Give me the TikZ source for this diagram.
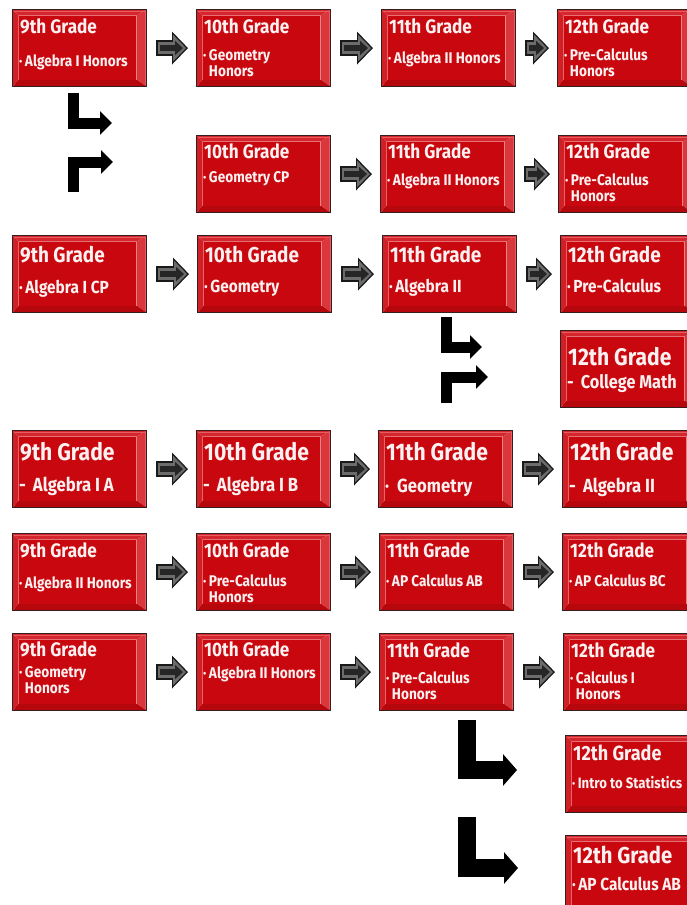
\documentclass[tikz,border=0pt]{standalone}
\usepackage{fontspec}
\usetikzlibrary{arrows.meta,calc}
\newfontfamily\gfont{Fira Sans}[FakeStretch=0.88]
\definecolor{boxred}{RGB}{200,8,14}
\definecolor{bvtop}{RGB}{212,38,44}
\definecolor{bvleft}{RGB}{208,32,38}
\definecolor{bvright}{RGB}{218,55,60}
\definecolor{bvbot}{RGB}{182,8,12}
\definecolor{bvhi}{RGB}{240,130,130}
\definecolor{boxedge}{RGB}{55,30,30}
\definecolor{txtc}{RGB}{252,240,240}
\tikzset{
  x=1pt, y=-1pt,
  gbox/.style={rectangle, minimum width=134pt, minimum height=77pt, inner sep=0pt,
    draw=boxedge, line width=1.1pt,
    path picture={
      \coordinate (o1) at (path picture bounding box.north west);
      \coordinate (o2) at (path picture bounding box.north east);
      \coordinate (o3) at (path picture bounding box.south east);
      \coordinate (o4) at (path picture bounding box.south west);
      \coordinate (i1) at ($(o1)+(6pt,-6pt)$);
      \coordinate (i2) at ($(o2)+(-10pt,-6pt)$);
      \coordinate (i3) at ($(o3)+(-10pt,7pt)$);
      \coordinate (i4) at ($(o4)+(6pt,7pt)$);
      \fill[bvtop] (o1)--(o2)--(i2)--(i1)--cycle;
      \fill[bvright] (o2)--(o3)--(i3)--(i2)--cycle;
      \fill[bvbot] (o3)--(o4)--(i4)--(i3)--cycle;
      \fill[bvleft] (o4)--(o1)--(i1)--(i4)--cycle;
      \fill[boxred] (i1) rectangle (i3);
      \draw[bvhi, line width=0.9pt] (i2) -- (i3);
      \draw[bvhi!70!bvleft, line width=0.6pt] (i1) -- (i4);
      \draw[bvhi!60!bvtop, line width=0.8pt] ($(o1)+(1.5pt,-1.5pt)$) -- ($(o2)+(-1.5pt,-1.5pt)$) -- ($(o3)+(-1.5pt,1.5pt)$);
    }},
  gtxt/.style={inner sep=0pt, anchor=base west, text=txtc, align=left},
  blk/.style={line width=16pt, draw=black!90, -{Triangle[length=16pt,width=32pt]},
    shorten <=9pt, shorten >=8pt,
    postaction={draw=gray!85!black, line width=12pt, -{Triangle[length=13pt,width=26pt]},
      shorten <=11pt, shorten >=10pt},
    postaction={draw=black!85, line width=6pt, -{Triangle[length=8pt,width=14pt]},
      shorten <=13pt, shorten >=13pt}},
  bent/.style={line width=11pt, draw=black, line join=miter, -{Triangle[length=12pt,width=23pt]}},
  bigbent/.style={line width=18pt, draw=black, line join=miter, -{Triangle[length=14pt,width=31pt]}}
}
\newcommand\gbox[3]{\node[gbox,anchor=north west] (#1) at (#2,#3) {};}
\newcommand\gttl[4]{\node[gtxt,font=\gfont\bfseries\fontsize{#3}{#3}\selectfont] (#1t) at ($(#1.north west)+(8pt,-#2pt)$) {#4};}
\newcommand\gbul[4]{\node[gtxt,font=\gfont\bfseries\fontsize{#3}{16}\selectfont] (#1b) at ($(#1.north west)+(7pt,-#2pt)$) {#4};}
\newcommand\bl{·\hspace{2.5pt}}
\newcommand\two[2]{\bl\begin{tabular}[t]{@{}l@{}}#1\\#2\end{tabular}}
\begin{document}
\begin{tikzpicture}
\useasboundingbox (0,0) rectangle (686,905);
\fill[white] (0,0) rectangle (686,905);
% row 1
\gbox{a1}{12}{9}\gbox{a2}{196}{9}\gbox{a3}{381}{9}\gbox{a4}{557}{9}
\gttl{a1}{24}{19.5}{9th Grade}\gbul{a1}{57}{15.5}{\bl Algebra I Honors}
\gttl{a2}{24}{19.5}{10th Grade}\gbul{a2}{51}{15.5}{\two{Geometry}{Honors}}
\gttl{a3}{24}{19.5}{11th Grade}\gbul{a3}{54}{15.5}{\bl Algebra II Honors}
\gttl{a4}{24}{19.5}{12th Grade}\gbul{a4}{51}{15.5}{\two{Pre-Calculus}{Honors}}
% row 2
\gbox{b2}{196}{135}\gbox{b3}{380}{135}\gbox{b4}{558}{135}
\gttl{b2}{23}{19.5}{10th Grade}\gbul{b2}{47}{15.5}{\bl Geometry CP}
\gttl{b3}{23}{19.5}{11th Grade}\gbul{b3}{50}{15.5}{\bl Algebra II Honors}
\gttl{b4}{23}{19.5}{12th Grade}\gbul{b4}{50}{15.5}{\two{Pre-Calculus}{Honors}}
% row 3
\gbox{c1}{12}{235}\gbox{c2}{197}{235}\gbox{c3}{382}{235}\gbox{c4}{560}{235}
\gttl{c1}{27}{21.5}{9th Grade}\gbul{c1}{58}{17.5}{\bl Algebra I CP}
\gttl{c2}{27}{21.5}{10th Grade}\gbul{c2}{57}{17.5}{\bl Geometry}
\gttl{c3}{27}{21.5}{11th Grade}\gbul{c3}{57}{17.5}{\bl Algebra II}
\gttl{c4}{27}{21.5}{12th Grade}\gbul{c4}{57}{17.5}{\bl Pre-Calculus}
\gbox{cm}{560}{330}
\gttl{cm}{35}{24}{12th Grade}\gbul{cm}{58}{18.5}{-\hspace{7pt}College Math}
% row 4
\gbox{d1}{12}{430}\gbox{d2}{196}{430}\gbox{d3}{378}{430}\gbox{d4}{562}{430}
\gttl{d1}{30}{24}{9th Grade}\gbul{d1}{61}{19}{-\hspace{7pt}Algebra I A}
\gttl{d2}{30}{24}{10th Grade}\gbul{d2}{61}{19}{-\hspace{7pt}Algebra I B}
\gttl{d3}{30}{24}{11th Grade}\gbul{d3}{62}{19}{·\hspace{8pt}Geometry}
\gttl{d4}{30}{24}{12th Grade}\gbul{d4}{62}{19}{-\hspace{7pt}Algebra II}
% row 5
\gbox{e1}{12}{533}\gbox{e2}{196}{533}\gbox{e3}{379}{533}\gbox{e4}{562}{533}
\gttl{e1}{24}{19.5}{9th Grade}\gbul{e1}{55}{15.5}{\bl Algebra II Honors}
\gttl{e2}{24}{19.5}{10th Grade}\gbul{e2}{53}{15.5}{\two{Pre-Calculus}{Honors}}
\gttl{e3}{24}{19.5}{11th Grade}\gbul{e3}{53}{15.5}{\bl AP Calculus AB}
\gttl{e4}{24}{19.5}{12th Grade}\gbul{e4}{53}{15.5}{\bl AP Calculus BC}
% row 6
\gbox{f1}{12}{633}\gbox{f2}{196}{633}\gbox{f3}{379}{633}\gbox{f4}{563}{633}
\gttl{f1}{23}{19.5}{9th Grade}\gbul{f1}{44}{15.5}{\two{Geometry}{Honors}}
\gttl{f2}{23}{19.5}{10th Grade}\gbul{f2}{45}{15.5}{\bl Algebra II Honors}
\gttl{f3}{24}{19.5}{11th Grade}\gbul{f3}{50}{15.5}{\two{Pre-Calculus}{Honors}}
\gttl{f4}{24}{19.5}{12th Grade}\gbul{f4}{50}{15.5}{\two{Calculus I}{Honors}}
\gbox{g4}{565}{735}
\gttl{g4}{25}{20.5}{12th Grade}\gbul{g4}{53}{15}{\bl Intro to Statistics}
\gbox{h4}{565}{835}
\gttl{h4}{28}{23}{12th Grade}\gbul{h4}{55}{17.5}{\bl AP Calculus AB}
% block arrows
\foreach \p/\q in {a1/a2,a2/a3,a3/a4,b2/b3,b3/b4,c1/c2,c2/c3,c3/c4,d1/d2,d2/d3,d3/d4,e1/e2,e2/e3,e3/e4,f1/f2,f2/f3,f3/f4}
  \draw[blk] (\p.east) -- (\p.east -| \q.west);
% bent arrows
\coordinate (l1s) at (73,93);  \coordinate (l1e) at (112,123);
\coordinate (l2s) at (73,192); \coordinate (l2e) at (113,162);
\coordinate (l3s) at (446,317); \coordinate (l3e) at (482,347);
\coordinate (l4s) at (446,403); \coordinate (l4e) at (488,377);
\coordinate (l5s) at (467,720); \coordinate (l5e) at (517,770);
\coordinate (l6s) at (467,817); \coordinate (l6e) at (518,868);
\draw[bent] (l1s) |- (l1e);
\draw[bent] (l2s) |- (l2e);
\draw[bent] (l3s) |- (l3e);
\draw[bent] (l4s) |- (l4e);
\draw[bigbent] (l5s) |- (l5e);
\draw[bigbent] (l6s) |- (l6e);
\end{tikzpicture}
\end{document}
